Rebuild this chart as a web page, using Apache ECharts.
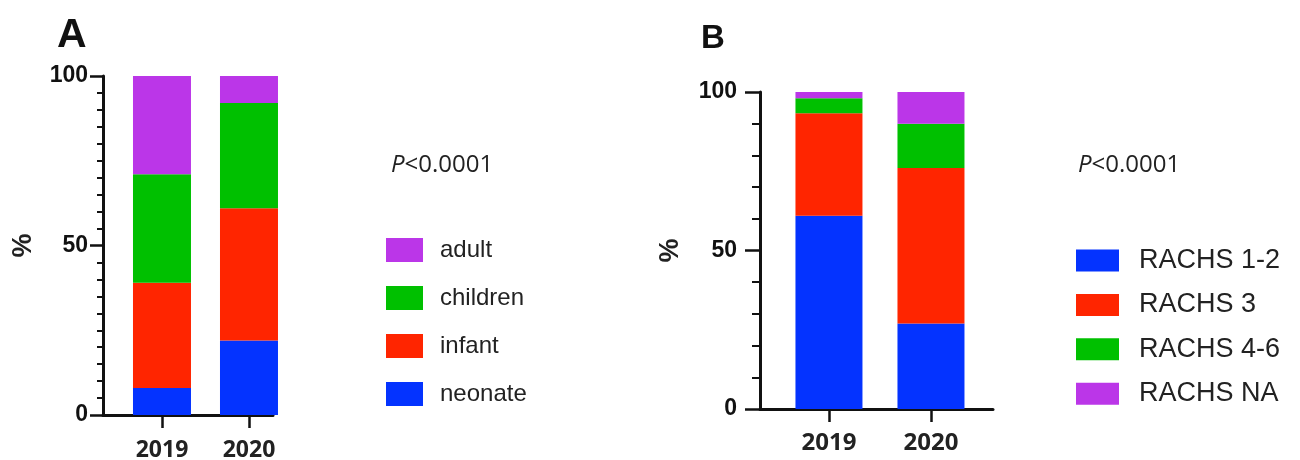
<!DOCTYPE html>
<html><head><meta charset="utf-8">
<script src="https://cdn.jsdelivr.net/npm/echarts@6/dist/echarts.min.js"></script>
<style>html,body{margin:0;padding:0;background:#fff}#c{width:1300px;height:460px}</style>
</head><body><div id="c"></div>
<script>
// ---- data ----
const categories = ['2019', '2020'];
const yTickLabels = ['0', '50', '100'];
// Panel A: age groups (% of patients)
const ageNames = ['neonate', 'infant', 'children', 'adult'];
const neonate = [8, 22];
const infant = [31, 39];
const children = [32, 31];
const adult = [29, 8];
// Panel B: RACHS categories (% of patients)
const rachsNames = ['RACHS 1-2', 'RACHS 3', 'RACHS 4-6', 'RACHS NA'];
const rachs12 = [61, 27];
const rachs3 = [32.3, 49];
const rachs46 = [4.7, 14];
const rachsNA = [2, 10];
const pText = 'P<0.0001';

// ---- style ----
const COL = ['#0433FF', '#FF2500', '#00C000', '#BB36E8'];
const years = categories.map(Number);
// value first, year second (encode maps them), so the stack runs along y
const pair = arr => arr.map((v, i) => [v, years[i]]);
const black = '#111';

function xAxisFor(grid, min, max, fontSize, margin) {
  return {
    type: 'value', gridIndex: grid, min: min, max: max,
    splitLine: {show: false},
    axisLine: {show: true, lineStyle: {color: black, width: 3}},
    axisTick: {show: true, length: 13, customValues: years, lineStyle: {color: black, width: 2.5}},
    axisLabel: {
      customValues: years, margin: margin,
      fontFamily: 'Open Sans', fontWeight: 'bold', fontSize: fontSize, color: '#222',
      formatter: v => categories[years.indexOf(v)] || ''
    }
  };
}
function yAxisFor(grid, split, tickLen, minorLen, margin, gap) {
  return {
    type: 'value', gridIndex: grid, min: 0, max: 100, interval: 50,
    name: '%', nameLocation: 'middle', nameGap: gap, nameRotate: 90,
    nameTextStyle: {fontFamily: 'Liberation Sans', fontWeight: 'bold', fontSize: 27, color: '#222'},
    splitLine: {show: false},
    axisLine: {show: true, lineStyle: {color: black, width: 3}},
    axisTick: {show: true, length: tickLen, lineStyle: {color: black, width: 2.5}},
    minorTick: {show: true, splitNumber: split, length: minorLen, lineStyle: {color: black, width: 2}},
    minorSplitLine: {show: false},
    axisLabel: {
      margin: margin, fontFamily: 'Liberation Sans', fontWeight: 'bold', fontSize: 23, color: black,
      formatter: v => yTickLabels[yTickLabels.indexOf(String(v))] || ''
    }
  };
}
function barSeries(name, data, color, xi, stack, width) {
  return {
    type: 'bar', name: name, data: pair(data), encode: {x: 1, y: 0},
    xAxisIndex: xi, yAxisIndex: xi,
    stack: stack, barWidth: width, clip: true,
    itemStyle: {color: color}, emphasis: {disabled: true}, animation: false
  };
}

const seriesA = [neonate, infant, children, adult].map((d, i) => barSeries(ageNames[i], d, COL[i], 0, 'A', 58));
const seriesB = [rachs12, rachs3, rachs46, rachsNA].map((d, i) => barSeries(rachsNames[i], d, COL[i], 1, 'B', 67));

const legendText = (size, pad) => ({fontFamily: 'Liberation Sans', fontSize: size, color: '#222', padding: [0, 0, 0, pad]});
const pRich = {
  i: {fontFamily: 'Open Sans', fontStyle: 'italic', fontWeight: 'normal', fontSize: 24, color: '#222'},
  n: {fontFamily: 'Open Sans', fontWeight: 'normal', fontSize: 24, color: '#222'}
};

const option = {
  animation: false,
  backgroundColor: '#fff',
  title: [
    {text: 'A', left: 52, top: 10, textStyle: {fontFamily: 'Liberation Sans', fontWeight: 'bold', fontSize: 41, color: black}},
    {text: 'B', left: 696, top: 17, textStyle: {fontFamily: 'Liberation Sans', fontWeight: 'bold', fontSize: 33, color: black}},
    {text: '{i|P}{n|' + pText.slice(1) + '}', left: 386, top: 148, textStyle: {fontWeight: 'normal', rich: pRich}},
    {text: '{i|P}{n|' + pText.slice(1) + '}', left: 1073, top: 148, textStyle: {fontWeight: 'normal', rich: pRich}}
  ],
  legend: [
    {data: ageNames.slice().reverse(), orient: 'vertical', left: 381, top: 233, icon: 'rect',
     itemWidth: 37, itemHeight: 24, itemGap: 24, textStyle: legendText(24, 12), selectedMode: false},
    {data: rachsNames, orient: 'vertical', left: 1071, top: 242, icon: 'rect',
     itemWidth: 43, itemHeight: 22, itemGap: 17.4, textStyle: legendText(27, 15), selectedMode: false}
  ],
  grid: [
    {left: 103, top: 76, width: 170, height: 339, containLabel: false, outerBoundsMode: 'none'},
    {left: 760, top: 92, width: 233, height: 317, containLabel: false, outerBoundsMode: 'none'}
  ],
  xAxis: [
    xAxisFor(0, 2018.322, 2020.276, 23, 24),
    xAxisFor(1, 2018.324, 2020.608, 24, 22)
  ],
  yAxis: [
    yAxisFor(0, 10, 13, 6, 15, 66),
    yAxisFor(1, 5, 15, 8, 23, 76)
  ],
  series: seriesA.concat(seriesB)
};
const chart = echarts.init(document.getElementById('c'), null, {renderer: 'canvas'});
chart.setOption(option);
</script></body></html>
